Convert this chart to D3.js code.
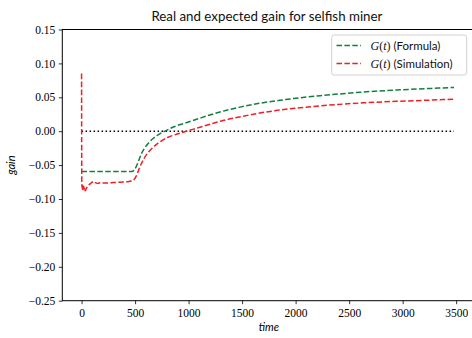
<!DOCTYPE html>
<html>
<head>
<meta charset="utf-8">
<script src="https://cdn.jsdelivr.net/npm/d3@7"></script>
<style>
  html, body { margin: 0; padding: 0; background: #fff; overflow: hidden; }
  svg { display: block; }
</style>
</head>
<body>
<svg id="chart" width="472" height="338"></svg>
<script>
// Gain of a selfish miner over time: analytical formula vs. simulation
const formulaTime = [0, 470, 498, 528, 560, 607, 654, 715, 778, 871, 965, 1089, 1214, 1322, 1480, 1665, 1850, 2040, 2230, 2400, 2630, 2940, 3250, 3480];
const formulaGain = [-0.0595, -0.0595, -0.056, -0.0458, -0.033, -0.021, -0.0127, -0.0053, 0.0, 0.007, 0.0118, 0.0183, 0.0247, 0.0296, 0.0355, 0.0412, 0.0455, 0.0493, 0.0524, 0.0548, 0.0578, 0.0607, 0.0630, 0.0646];

const simTime = [0, 2, 4, 6, 8, 10, 14, 18, 22, 28, 35, 42, 55, 70, 85, 100, 115, 130, 150, 180, 220, 270, 320, 380, 430, 465, 482, 513, 544, 591, 654, 715, 809, 902, 980, 1089, 1214, 1322, 1460, 1665, 1850, 2040, 2230, 2400, 2630, 2940, 3250, 3480];
const simGain = [0.085, -0.072, -0.083, -0.078, -0.086, -0.080, -0.084, -0.079, -0.086, -0.083, -0.088, -0.085, -0.082, -0.079, -0.077, -0.075, -0.074, -0.076, -0.077, -0.076, -0.0765, -0.0762, -0.0755, -0.075, -0.0745, -0.0735, -0.0725, -0.0655, -0.053, -0.0384, -0.026, -0.0177, -0.0089, -0.0038, 0.0, 0.005, 0.011, 0.0158, 0.0205, 0.0268, 0.0311, 0.0346, 0.0374, 0.0395, 0.0418, 0.0440, 0.0458, 0.0473];

const xTicks = [0, 500, 1000, 1500, 2000, 2500, 3000, 3500];
const yTicks = [0.15, 0.10, 0.05, 0.00, -0.05, -0.10, -0.15, -0.20, -0.25];

const seriesNames = ["(Formula)", "(Simulation)"];
const seriesColors = ["#127f3c", "#ee1f26"];

const svg = d3.select("#chart");
const margin = { left: 62.3, top: 29.5, right: 473.5, bottom: 300.7 };

const x = d3.scaleLinear().domain([-180, 3662]).range([margin.left, margin.right]);
const y = d3.scaleLinear().domain([-0.25, 0.15]).range([margin.bottom, margin.top]);

const serif = "'Liberation Serif', 'DejaVu Serif', serif";
const sans = "Lato, 'Open Sans', 'DejaVu Sans', sans-serif";

// Plot frame
svg.append("rect")
  .attr("x", margin.left).attr("y", margin.top)
  .attr("width", margin.right - margin.left).attr("height", margin.bottom - margin.top)
  .attr("fill", "none").attr("stroke", "#000").attr("stroke-width", 1);

// Zero reference line
svg.append("line")
  .attr("x1", x(0)).attr("x2", x(3480))
  .attr("y1", y(0)).attr("y2", y(0))
  .attr("stroke", "#000").attr("stroke-width", 1.5)
  .attr("stroke-dasharray", "1.5,2.5");

const formulaPts = formulaTime.map((t, i) => [t, formulaGain[i]]);
const simPts = simTime.map((t, i) => [t, simGain[i]]);

const smooth = d3.line().x(d => x(d[0])).y(d => y(d[1])).curve(d3.curveMonotoneX);

svg.append("path").datum(formulaPts)
  .attr("d", smooth)
  .attr("fill", "none").attr("stroke", seriesColors[0])
  .attr("stroke-width", 1.5).attr("stroke-dasharray", "5.5,2.4");

svg.append("path").datum(simPts)
  .attr("d", smooth)
  .attr("fill", "none").attr("stroke", seriesColors[1])
  .attr("stroke-width", 1.5).attr("stroke-dasharray", "5.5,2.4");

// Axes
const xAxis = svg.append("g")
  .attr("transform", `translate(0,${margin.bottom})`)
  .call(d3.axisBottom(x).tickValues(xTicks).tickSize(3.5).tickPadding(4.5).tickFormat(d3.format("d")));
const yAxis = svg.append("g")
  .attr("transform", `translate(${margin.left},0)`)
  .call(d3.axisLeft(y).tickValues(yTicks).tickSize(3.5).tickPadding(3.5)
    .tickFormat(d => d3.format(".2f")(d).replace("-", "\u2212")));

[xAxis, yAxis].forEach(g => {
  g.select(".domain").remove();
  g.selectAll("line").attr("stroke", "#000").attr("stroke-width", 0.8);
  g.selectAll("text").attr("fill", "#000").style("font-family", serif).style("font-size", "11.5px");
});

// Title and axis labels
svg.append("text")
  .attr("x", (margin.left + margin.right) / 2 - 1).attr("y", 21)
  .attr("text-anchor", "middle")
  .style("font-family", sans).style("font-size", "13.3px").attr("fill", "#111")
  .text("Real and expected gain for selfish miner");

svg.append("text")
  .attr("x", x(1750)).attr("y", 331)
  .attr("text-anchor", "middle")
  .style("font-family", sans).style("font-style", "italic").style("font-size", "11px")
  .text("time");

svg.append("text")
  .attr("transform", `translate(15,${y(-0.05)}) rotate(-90)`)
  .attr("text-anchor", "middle")
  .style("font-family", sans).style("font-style", "italic").style("font-size", "11px")
  .text("gain");

// Legend
const legend = svg.append("g");
legend.append("rect")
  .attr("x", 331.7).attr("y", 35).attr("width", 135).attr("height", 40)
  .attr("rx", 2.5).attr("fill", "#fff").attr("fill-opacity", 0.8)
  .attr("stroke", "#d0d0d0").attr("stroke-width", 1);

seriesNames.forEach((name, i) => {
  const ly = 45.5 + i * 18;
  legend.append("line")
    .attr("x1", 336.5).attr("x2", 361).attr("y1", ly).attr("y2", ly)
    .attr("stroke", seriesColors[i]).attr("stroke-width", 1.5)
    .attr("stroke-dasharray", "5.5,2.4");
  const t = legend.append("text")
    .attr("x", 370.5).attr("y", ly + 4)
    .style("font-size", "12px").attr("fill", "#111");
  t.append("tspan").style("font-family", serif).style("font-style", "italic").text("G");
  t.append("tspan").style("font-family", serif).text("(");
  t.append("tspan").style("font-family", serif).style("font-style", "italic").text("t");
  t.append("tspan").style("font-family", serif).text(")");
  t.append("tspan").style("font-family", sans).style("font-size", "11.5px").text("\u00a0(" + name.slice(1));
});
</script>
</body>
</html>
